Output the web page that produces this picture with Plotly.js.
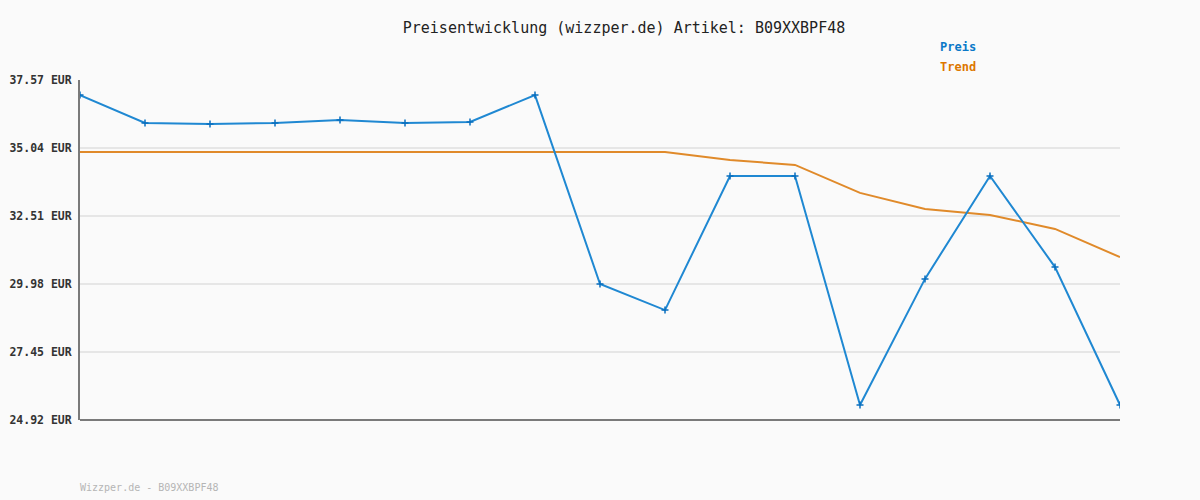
<!DOCTYPE html>
<html>
<head>
<meta charset="utf-8">
<script src="https://cdn.plot.ly/plotly-3.0.1.min.js"></script>
<style>body{margin:0;background:#fafafa;}#chart{width:1200px;height:500px;}</style>
</head>
<body>
<div id="chart"></div>
<script>
var points = [0,1,2,3,4,5,6,7,8,9,10,11,12,13,14,15,16];
var preis = [37.01,35.97,35.93,35.97,36.08,35.97,36.01,37.01,29.98,29.01,34.00,34.00,25.48,30.17,34.00,30.61,25.48];
var trend = [34.89,34.89,34.89,34.89,34.89,34.89,34.89,34.89,34.89,34.89,34.59,34.41,33.37,32.77,32.55,32.03,30.98];
var tickVals = [24.92,27.45,29.98,32.51,35.04,37.57];
var tickText = ["24.92 EUR","27.45 EUR","29.98 EUR","32.51 EUR","35.04 EUR","37.57 EUR"];
var seriesNames = ["Preis","Trend"];
var mono = "DejaVu Sans Mono, monospace";

var traces = [
  {x: points, y: trend, mode: "lines", name: seriesNames[1],
   line: {color: "#e08a2a", width: 2}, hoverinfo: "skip"},
  {x: points, y: preis, mode: "lines+markers", name: seriesNames[0],
   line: {color: "#1f88d2", width: 2},
   marker: {symbol: "cross-thin", size: 5, color: "#0a6fbf", line: {color: "#0a6fbf", width: 1.5}}}
];

var layout = {
  width: 1200, height: 500,
  paper_bgcolor: "#fafafa", plot_bgcolor: "#fafafa",
  margin: {l: 80, r: 80, t: 80, b: 80},
  showlegend: false,
  title: {text: "Preisentwicklung (wizzper.de) Artikel: B09XXBPF48",
          font: {family: mono, size: 15, color: "#222"},
          xref: "container", x: 0.52, xanchor: "center", yref: "container", y: 0.944, yanchor: "middle"},
  xaxis: {range: [0, 16], showticklabels: false, ticks: "", showgrid: false, zeroline: false,
          showline: false, fixedrange: true},
  yaxis: {range: [24.92, 37.57], tickvals: tickVals, ticktext: tickText,
          tickfont: {family: mono, size: 11.5, color: "#333", weight: "bold"},
          gridcolor: "#e6e6e6", gridwidth: 2, zeroline: false, ticklabelstandoff: 4,
          showline: true, linecolor: "#7a7a7a", linewidth: 2, ticks: "", ticklen: 0},
  shapes: [
    {type: "line", xref: "paper", yref: "paper", x0: 0, x1: 1, y0: 0, y1: 0,
     line: {color: "#7a7a7a", width: 2}}
  ],
  annotations: [
    {text: "<b>" + seriesNames[0] + "</b>", xref: "paper", yref: "paper", x: 858/1040, y: 1 + 33/340,
     xanchor: "left", yanchor: "middle", showarrow: false, font: {family: mono, size: 12, color: "#0a78c8"}},
    {text: "<b>" + seriesNames[1] + "</b>", xref: "paper", yref: "paper", x: 858/1040, y: 1 + 13/340,
     xanchor: "left", yanchor: "middle", showarrow: false, font: {family: mono, size: 12, color: "#dd7700"}},
    {text: "Wizzper.de - B09XXBPF48", xref: "paper", yref: "paper", x: -2/1040, y: -67/340,
     xanchor: "left", yanchor: "middle", showarrow: false, font: {family: mono, size: 10, color: "#b5b5b5"}}
  ]
};

Plotly.newPlot("chart", traces, layout, {displayModeBar: false, staticPlot: true});
</script>
</body>
</html>
